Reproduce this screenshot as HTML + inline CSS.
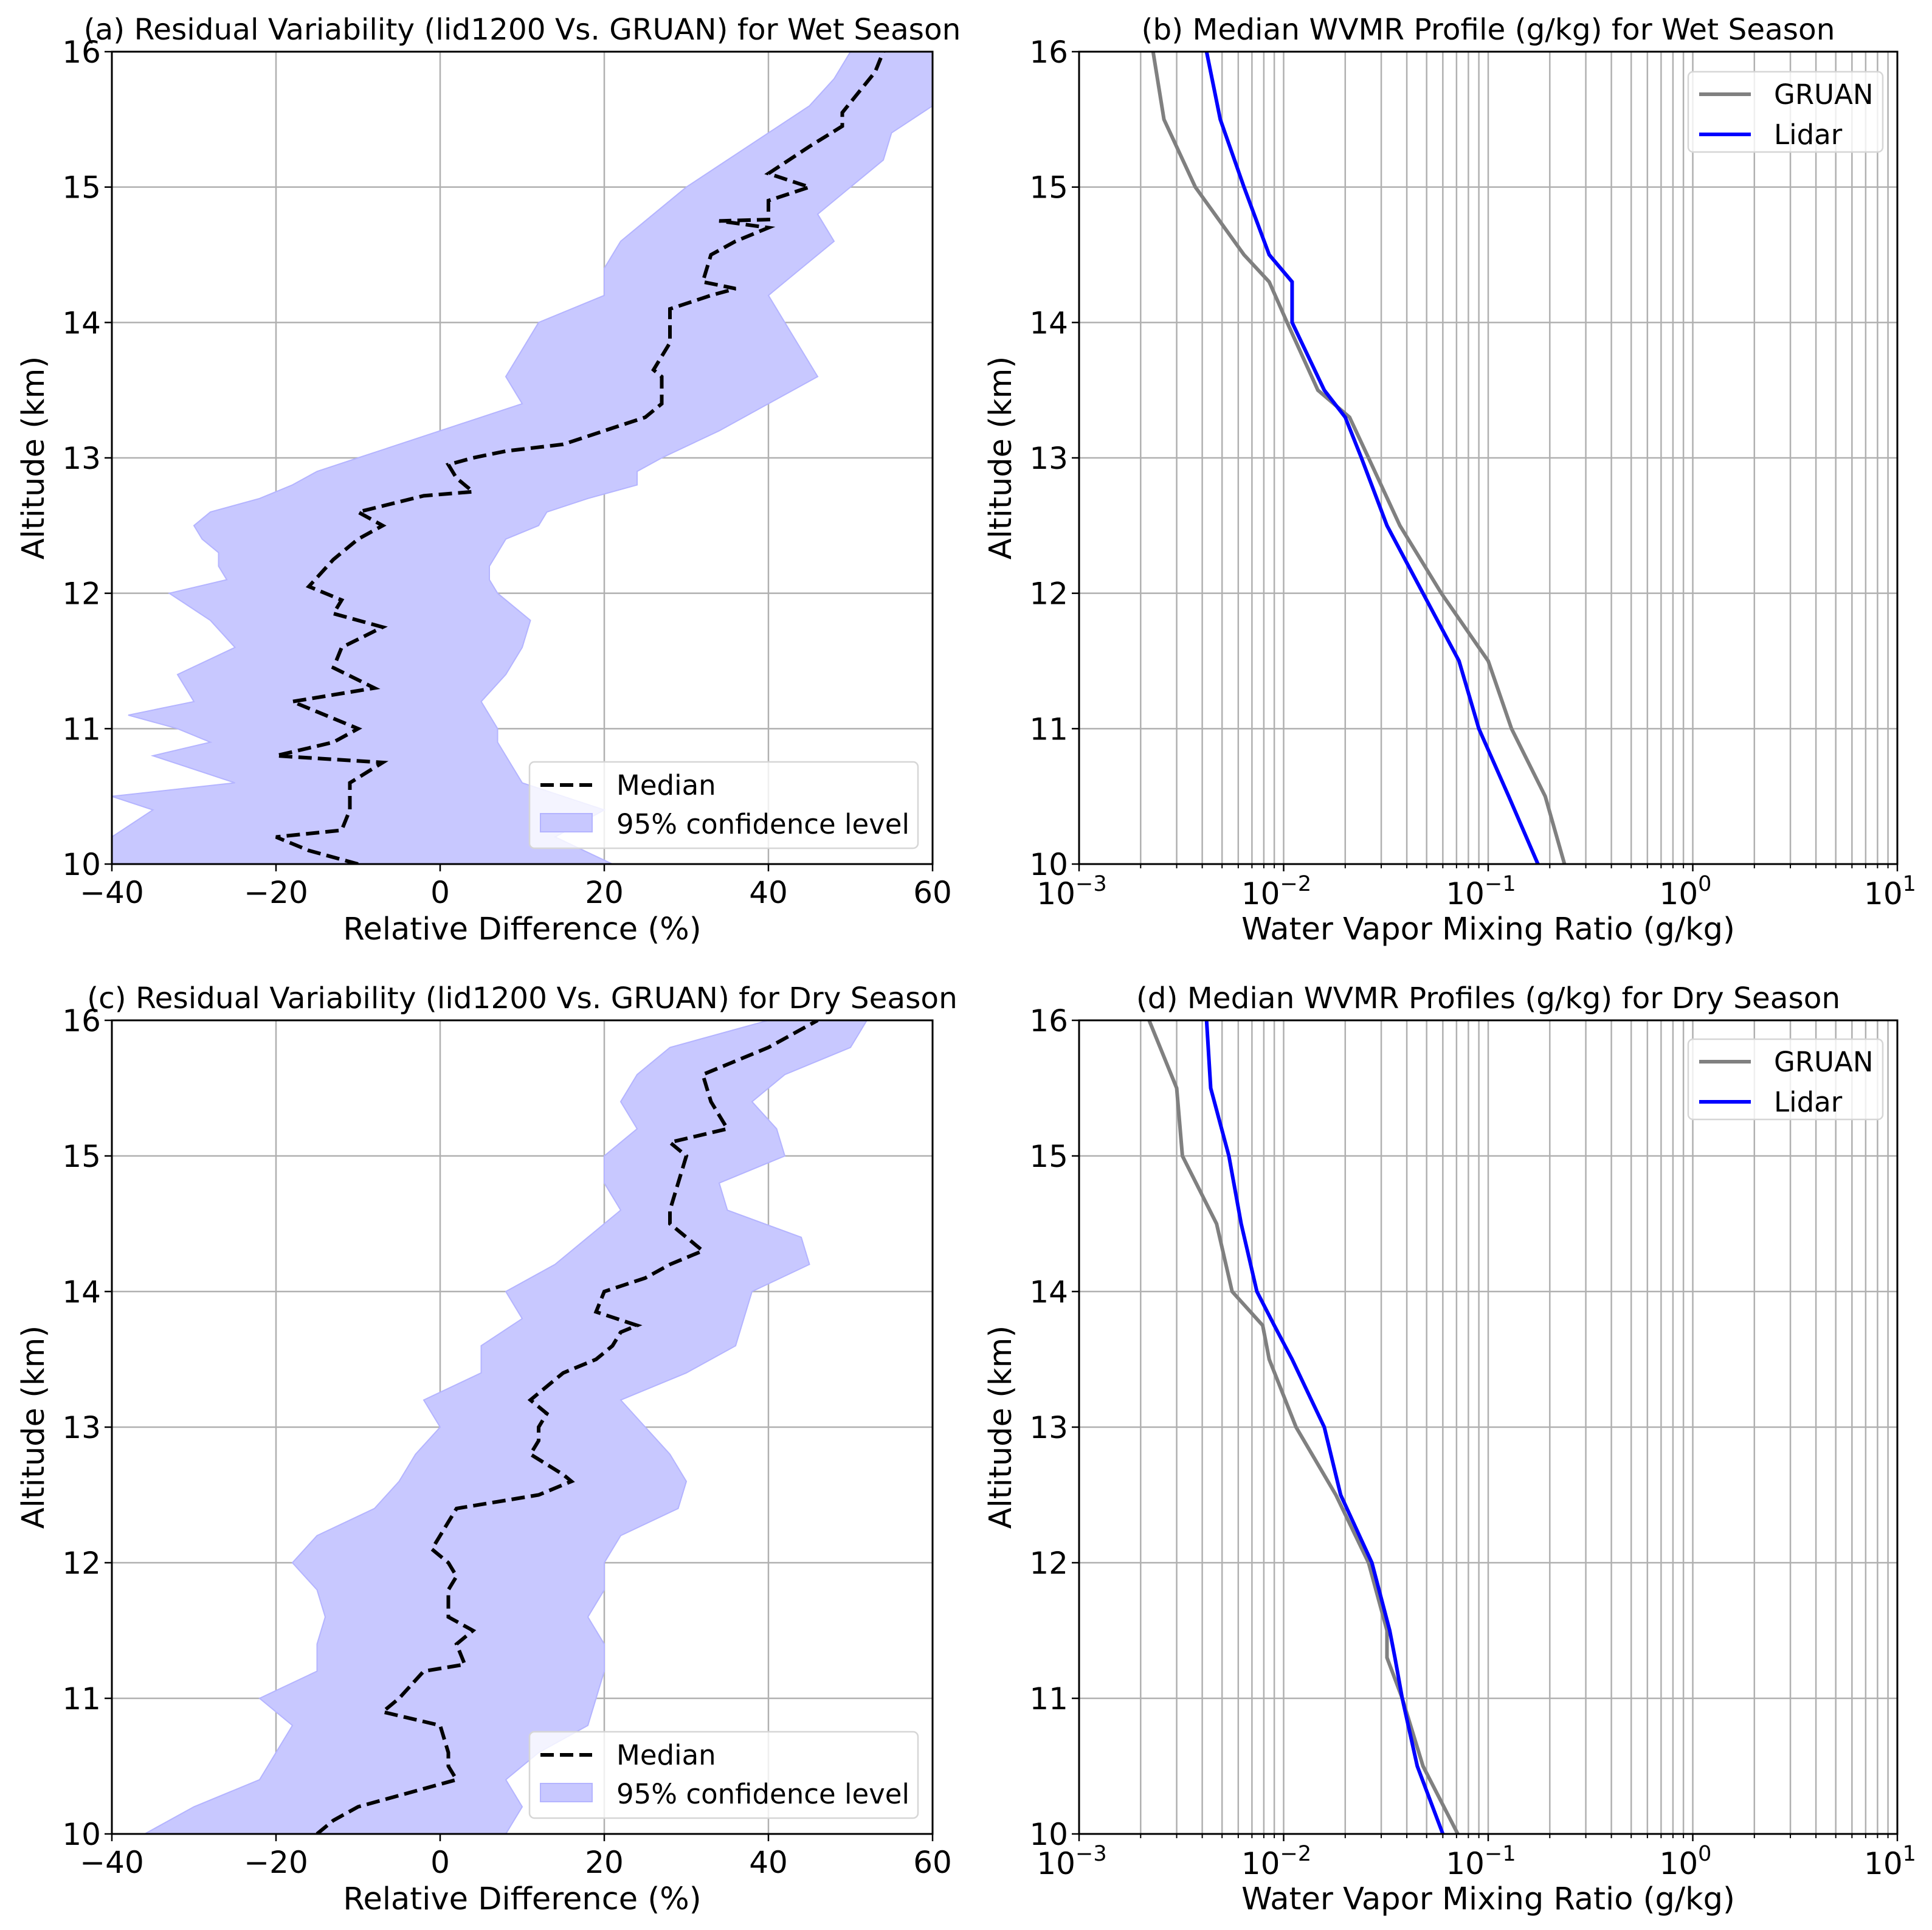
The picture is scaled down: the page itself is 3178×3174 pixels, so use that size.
<!DOCTYPE html>
<html><head><meta charset="utf-8">
<style>
html,body{margin:0;padding:0;background:#fff;}
svg{display:block;font-family:"DejaVu Sans","Liberation Sans",sans-serif;}
</style></head>
<body>
<svg id="fig" width="3178" height="3174" viewBox="0 0 3178 3174" xmlns="http://www.w3.org/2000/svg"></svg>
<script>
// ---------- Data ----------
const aMedAlt = [10.0,10.1,10.2,10.25,10.4,10.6,10.75,10.8,10.9,11.0,11.1,11.2,11.3,11.45,11.6,11.75,11.85,11.95,12.05,12.25,12.4,12.5,12.6,12.72,12.75,12.85,12.95,13.0,13.05,13.1,13.2,13.3,13.4,13.6,13.65,13.85,14.0,14.1,14.2,14.25,14.3,14.5,14.6,14.7,14.75,14.76,14.9,15.0,15.1,15.3,15.45,15.55,15.7,15.85,16.0];
const aMed = [-10,-16,-20,-12,-11,-11,-7,-20,-13,-10,-14,-18,-8,-13,-12,-7,-13,-12,-16,-13,-10,-7,-10,-2,4,2,1,4,8,15,20,25,27,27,26,28,28,28,33,36,32,33,36,40,34,40,40,45,40,45,49,49,51,53,54];
const aBandAlt = [10.0,10.2,10.4,10.5,10.6,10.8,10.9,11.0,11.1,11.2,11.4,11.6,11.8,12.0,12.1,12.2,12.3,12.4,12.5,12.6,12.7,12.8,12.9,13.0,13.2,13.4,13.6,13.8,14.0,14.2,14.4,14.6,14.8,15.0,15.2,15.4,15.6,15.8,16.0];
const aLow = [-40,-40,-35,-40,-25,-35,-28,-32,-38,-30,-32,-25,-28,-33,-26,-27,-27,-29,-30,-28,-22,-18,-15,-10,0,10,8,10,12,20,20,22,26,30,35,40,45,48,50];
const aHigh = [21,14,20,15,10,8,7,7,6,5,8,10,11,7,6,6,7,8,12,13,18,24,24,27,34,40,46,44,42,40,44,48,46,50,54,55,60,60,60];
const cMedAlt = [10.0,10.1,10.2,10.3,10.4,10.5,10.6,10.8,10.9,11.0,11.2,11.25,11.4,11.5,11.6,11.8,11.9,12.0,12.1,12.3,12.4,12.45,12.5,12.6,12.65,12.8,12.9,13.0,13.1,13.2,13.4,13.5,13.6,13.7,13.75,13.85,14.0,14.1,14.2,14.3,14.4,14.5,14.6,14.8,15.0,15.1,15.2,15.4,15.6,15.8,16.0];
const cMed = [-15,-13,-10,-4,2,1,1,0,-7,-5,-2,3,2,4,1,1,2,1,-1,1,2,7,12,16,15,11,12,12,13,11,15,19,21,22,24,19,20,25,28,32,30,28,28,29,30,28,35,33,32,40,46];
const cBandAlt = [10.0,10.2,10.4,10.6,10.8,11.0,11.2,11.4,11.6,11.8,12.0,12.2,12.4,12.6,12.8,13.0,13.2,13.4,13.6,13.8,14.0,14.2,14.4,14.6,14.8,15.0,15.2,15.4,15.6,15.8,16.0];
const cLow = [-36,-30,-22,-20,-18,-22,-15,-15,-14,-15,-18,-15,-8,-5,-3,0,-2,5,5,10,8,14,18,22,20,20,24,22,24,28,40];
const cHigh = [8,10,8,12,18,19,20,20,18,20,20,22,29,30,28,25,22,30,36,37,38,45,44,35,34,42,41,38,42,50,52];
const bAlt = [10.0,10.5,11.0,11.5,12.0,12.5,13.0,13.3,13.5,14.0,14.3,14.5,15.0,15.5,16.0];
const bGruan = [0.236,0.19,0.13,0.10,0.059,0.037,0.026,0.021,0.0147,0.0104,0.0085,0.0064,0.0037,0.0026,0.0023];
const bLidar = [0.175,0.126,0.09,0.072,0.048,0.032,0.024,0.020,0.0158,0.011,0.011,0.0085,0.0064,0.0049,0.0042];
const dAlt = [10.0,10.5,11.0,11.3,11.5,12.0,12.5,13.0,13.5,13.75,14.0,14.5,15.0,15.5,16.0];
const dGruan = [0.071,0.048,0.038,0.032,0.032,0.026,0.018,0.0115,0.0085,0.0079,0.0056,0.0047,0.0032,0.003,0.0022];
const dLidar = [0.06,0.045,0.038,0.035,0.033,0.027,0.019,0.0158,0.011,0.009,0.0074,0.0062,0.0054,0.0044,0.0042];
const linTicks = [-40,-20,0,20,40,60];
const altTicks = [10,11,12,13,14,15,16];
const logExps = [-3,-2,-1,0,1];

// ---------- Drawing helpers ----------
const NS = "http://www.w3.org/2000/svg";
const svg = document.getElementById("fig");
function el(tag, attrs, parent){ const e=document.createElementNS(NS,tag); for(const k in attrs) e.setAttribute(k,attrs[k]); (parent||svg).appendChild(e); return e; }

const L = {x0:184, x1:1534}, R = {x0:1775, x1:3121};
const T = {y0:85, y1:1421}, B = {y0:1678, y1:3016};
const FT = 50, FA = 51, FTT = 48.5, FL = 45;

function yScale(box){ return a => box.y1 - (a-10)/6*(box.y1-box.y0); }
function linX(c){ return v => c.x0 + (v+40)/100*(c.x1-c.x0); }
function logX(c){ return v => c.x0 + (Math.log10(v)+3)/4*(c.x1-c.x0); }

function frame(g, col, row, title, logAxis){
  const X = logAxis ? logX(col) : linX(col), Y = yScale(row);
  if(logAxis){
    for(let e=-3;e<1;e++) for(let m=1;m<10;m++){
      const x = X(m*Math.pow(10,e));
      const gl = el("line",{x1:x,x2:x,y1:row.y0,y2:row.y1,stroke:"#b0b0b0","stroke-width":2.5},g);
      
      
    }
  } else {
    linTicks.forEach(v=>{ const x=X(v); const gl=el("line",{x1:x,x2:x,y1:row.y0,y2:row.y1,stroke:"#b0b0b0","stroke-width":2.5},g);
      
       });
  }
  altTicks.forEach(a=>{ const y=Y(a); const gl=el("line",{x1:col.x0,x2:col.x1,y1:y,y2:y,stroke:"#b0b0b0","stroke-width":2.5},g);
    
     });
  return {X,Y};
}

function axes(g,col,row,title,logAxis,X,Y){
  const sp = el("rect",{x:col.x0,y:row.y0,width:col.x1-col.x0,height:row.y1-row.y0,fill:"none",stroke:"#000","stroke-width":3},g);
  
  
  altTicks.forEach(a=>{ const y=Y(a);
    el("line",{x1:col.x0-12,x2:col.x0,y1:y,y2:y,stroke:"#000","stroke-width":2.5},g);
    const t=el("text",{x:col.x0-18,y:y+18,"text-anchor":"end","font-size":FT},g); t.textContent=a;
    
    
  });
  if(logAxis){
    logExps.forEach(e=>{ const x=X(Math.pow(10,e));
      el("line",{x1:x,x2:x,y1:row.y1,y2:row.y1+12,stroke:"#000","stroke-width":2.5},g);
      const t=el("text",{x:x-12,y:row.y1+66,"text-anchor":"middle","font-size":FT},g);
      t.textContent="10";
      const s=el("tspan",{dy:-22,"font-size":35},t); s.textContent=(e<0?"\u2212":"")+Math.abs(e);
      
      
    });
    for(let e=-3;e<1;e++) for(let m=2;m<10;m++){ const x=X(m*Math.pow(10,e));
      el("line",{x1:x,x2:x,y1:row.y1,y2:row.y1+7,stroke:"#000","stroke-width":2},g); }
  } else {
    linTicks.forEach(v=>{ const x=X(v);
      el("line",{x1:x,x2:x,y1:row.y1,y2:row.y1+12,stroke:"#000","stroke-width":2.5},g);
      const t=el("text",{x:x,y:row.y1+64,"text-anchor":"middle","font-size":FT},g); t.textContent=(v<0?"\u2212":"")+Math.abs(v);
      
      
    });
  }
  const cx=(col.x0+col.x1)/2;
  const xl=el("text",{x:cx,y:row.y1+124,"text-anchor":"middle","font-size":FA},g);
  xl.textContent = logAxis ? "Water Vapor Mixing Ratio (g/kg)" : "Relative Difference (%)";
  
  
  const cy=(row.y0+row.y1)/2, lx=col.x0-112;
  const yl=el("text",{x:lx,y:cy,"text-anchor":"middle","font-size":FA,transform:`rotate(-90 ${lx} ${cy})`},g);
  yl.textContent="Altitude (km)";
  
  
  const tt=el("text",{x:cx,y:row.y0-20,"text-anchor":"middle","font-size":FTT},g);
  tt.textContent=title;
  
  
}

function residualPanel(name,col,row,title,bAlt_,low,high,mAlt,med,legY){
  const g=el("g",{});
  
  
  const {X,Y}=frame(g,col,row,title,false);
  const clip=el("clipPath",{id:name+"-clip"},g);
  el("rect",{x:col.x0,y:row.y0,width:col.x1-col.x0,height:row.y1-row.y0},clip);
  let d="M"+bAlt_.map((a,i)=>X(low[i])+","+Y(a)).join(" L");
  for(let i=bAlt_.length-1;i>=0;i--) d+=" L"+X(high[i])+","+Y(bAlt_[i]);
  const band=el("path",{d:d+"Z",fill:"#c8c8ff",stroke:"#b4b4ff","stroke-width":2,"clip-path":`url(#${name}-clip)`},g);
  
  
  const ml=el("polyline",{points:mAlt.map((a,i)=>X(med[i])+","+Y(a)).join(" "),fill:"none",stroke:"#000","stroke-width":6,"stroke-dasharray":"22 10","clip-path":`url(#${name}-clip)`},g);
  
  
  axes(g,col,row,title,false,X,Y);
  const lg=el("g",{},g);
  
  
  el("rect",{x:871,y:legY,width:639,height:142,rx:8,fill:"rgba(255,255,255,0.8)",stroke:"#d6d6d6","stroke-width":2.5},lg);
  el("line",{x1:889,x2:974,y1:legY+38,y2:legY+38,stroke:"#000","stroke-width":6,"stroke-dasharray":"22 10"},lg);
  const t1=el("text",{x:1014,y:legY+54,"font-size":FL},lg); t1.textContent="Median";
  
  
  el("rect",{x:889,y:legY+85,width:85,height:30,fill:"#c8c8ff",stroke:"#b4b4ff","stroke-width":2},lg);
  const t2=el("text",{x:1014,y:legY+118,"font-size":FL},lg); t2.textContent="95% confidence level";
  
  
}

function profilePanel(name,col,row,title,alt,gru,lid,legY){
  const g=el("g",{});
  
  
  const {X,Y}=frame(g,col,row,title,true);
  const gl=el("polyline",{points:alt.map((a,i)=>X(gru[i])+","+Y(a)).join(" "),fill:"none",stroke:"#808080","stroke-width":6},g);
  
  
  const ll=el("polyline",{points:alt.map((a,i)=>X(lid[i])+","+Y(a)).join(" "),fill:"none",stroke:"#0000ff","stroke-width":6},g);
  
  
  axes(g,col,row,title,true,X,Y);
  const lg=el("g",{},g);
  
  
  el("rect",{x:2777,y:legY,width:320,height:132,rx:8,fill:"rgba(255,255,255,0.8)",stroke:"#d6d6d6","stroke-width":2.5},lg);
  el("line",{x1:2795,x2:2880,y1:legY+37,y2:legY+37,stroke:"#808080","stroke-width":6},lg);
  const t1=el("text",{x:2918,y:legY+53,"font-size":FL},lg); t1.textContent="GRUAN";
  
  
  el("line",{x1:2795,x2:2880,y1:legY+103,y2:legY+103,stroke:"#0000ff","stroke-width":6},lg);
  const t2=el("text",{x:2918,y:legY+119,"font-size":FL},lg); t2.textContent="Lidar";
  
  
}

residualPanel("panel-a",L,T,"(a) Residual Variability (lid1200 Vs. GRUAN) for Wet Season",aBandAlt,aLow,aHigh,aMedAlt,aMed,1253);
profilePanel("panel-b",R,T,"(b) Median WVMR Profile (g/kg) for Wet Season",bAlt,bGruan,bLidar,118);
residualPanel("panel-c",L,B,"(c) Residual Variability (lid1200 Vs. GRUAN) for Dry Season",cBandAlt,cLow,cHigh,cMedAlt,cMed,2848);
profilePanel("panel-d",R,B,"(d) Median WVMR Profiles (g/kg) for Dry Season",dAlt,dGruan,dLidar,1709);
</script>
</body></html>
